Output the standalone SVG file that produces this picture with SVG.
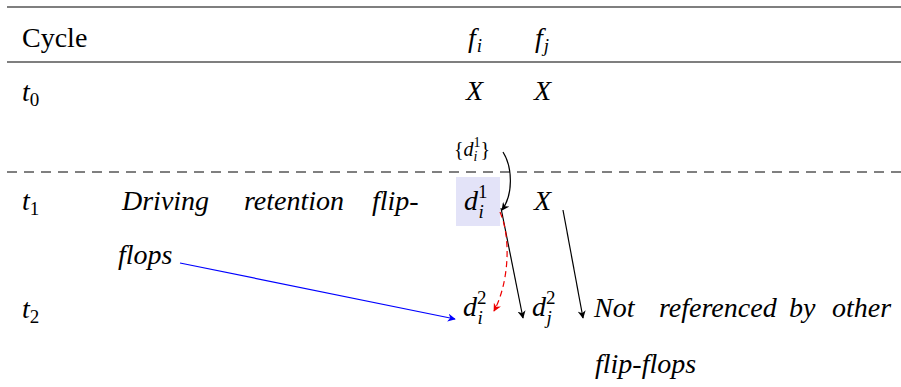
<svg xmlns="http://www.w3.org/2000/svg" width="901" height="387" viewBox="0 0 901 387">
<defs>
<marker id="ak" viewBox="0 0 10 10" refX="9" refY="5" markerWidth="8" markerHeight="8" markerUnits="userSpaceOnUse" orient="auto"><path d="M0,0 L10,5 L0,10 L3,5 Z" fill="#000"/></marker>
<marker id="ar" viewBox="0 0 10 10" refX="9" refY="5" markerWidth="8" markerHeight="8" markerUnits="userSpaceOnUse" orient="auto"><path d="M0,0 L10,5 L0,10 L3,5 Z" fill="#e00"/></marker>
<marker id="ab" viewBox="0 0 10 10" refX="9" refY="5" markerWidth="8" markerHeight="8" markerUnits="userSpaceOnUse" orient="auto"><path d="M0,0 L10,5 L0,10 L3,5 Z" fill="#00f"/></marker>
</defs>
<rect width="901" height="387" fill="#fff"/>
<g id="table" stroke="#000" stroke-width="1.2" fill="none">
<line x1="7" y1="7" x2="901" y2="7"/>
<line x1="7" y1="62" x2="901" y2="62"/>
<line x1="7" y1="172" x2="901" y2="172" stroke-dasharray="10,7" stroke-width="1"/>
</g>
<g id="header">
<text font-family="Times New Roman" font-size="28" x="22" y="47">Cycle</text>
<text font-family="Times New Roman" font-size="28" font-style="italic" x="468" y="47">f<tspan font-size="19" dx="1" dy="5">i</tspan></text>
<text font-family="Times New Roman" font-size="28" font-style="italic" x="535" y="47">f<tspan font-size="19" dx="1" dy="5">j</tspan></text>
</g>
<g id="row-t0">
<text font-family="Times New Roman" font-size="28" font-style="italic" x="22" y="101">t<tspan font-size="19" font-style="normal" dy="5">0</tspan></text>
<text font-family="Times New Roman" font-size="28" font-style="italic" x="466" y="100">X</text>
<text font-family="Times New Roman" font-size="28" font-style="italic" x="534" y="100">X</text>
</g>
<g id="node-set">
<text font-family="Times New Roman" font-size="20" x="454" y="156">{<tspan font-style="italic">d</tspan><tspan font-size="14" dy="-9">1</tspan><tspan font-size="14" font-style="italic" dx="-7" dy="14">i</tspan><tspan dx="3" dy="-5">}</tspan></text>
</g>
<g id="row-t1">
<text font-family="Times New Roman" font-size="28" font-style="italic" x="22" y="210">t<tspan font-size="19" font-style="normal" dy="5">1</tspan></text>
<rect x="456" y="177" width="44" height="49" fill="#e3e3f8"/>
<text font-family="Times New Roman" font-size="28" font-style="italic" x="464" y="210">d<tspan font-size="19" font-style="normal" dy="-12">1</tspan><tspan font-size="19" dx="-9" dy="20">i</tspan></text>
<text font-family="Times New Roman" font-size="28" font-style="italic" x="534" y="210">X</text>
</g>
<g id="label-driving">
<text font-family="Times New Roman" font-size="28" font-style="italic" x="122" y="210">Driving</text>
<text font-family="Times New Roman" font-size="28" font-style="italic" x="244" y="210">retention</text>
<text font-family="Times New Roman" font-size="28" font-style="italic" x="372" y="210">flip-</text>
<text font-family="Times New Roman" font-size="28" font-style="italic" x="118" y="264">flops</text>
</g>
<g id="row-t2">
<text font-family="Times New Roman" font-size="28" font-style="italic" x="22" y="318">t<tspan font-size="19" font-style="normal" dy="5">2</tspan></text>
<text font-family="Times New Roman" font-size="28" font-style="italic" x="463" y="316">d<tspan font-size="19" font-style="normal" dy="-12">2</tspan><tspan font-size="19" dx="-9" dy="20">i</tspan></text>
<text font-family="Times New Roman" font-size="28" font-style="italic" x="532" y="316">d<tspan font-size="19" font-style="normal" dy="-12">2</tspan><tspan font-size="19" dx="-9" dy="20">j</tspan></text>
</g>
<g id="label-not-referenced">
<text font-family="Times New Roman" font-size="28" font-style="italic" x="594" y="317">Not</text>
<text font-family="Times New Roman" font-size="28" font-style="italic" x="659" y="317">referenced</text>
<text font-family="Times New Roman" font-size="28" font-style="italic" x="789" y="317">by</text>
<text font-family="Times New Roman" font-size="28" font-style="italic" x="832" y="317">other</text>
<text font-family="Times New Roman" font-size="28" font-style="italic" x="595" y="373">flip-flops</text>
</g>
<g id="connectors" fill="none" stroke-width="1.2">
<path stroke="#000" d="M503,152 C513,168 513,195 502,210" marker-end="url(#ak)"/>
<path stroke="#000" d="M501,208 L523,318" marker-end="url(#ak)"/>
<path stroke="#e00" stroke-dasharray="6,4" d="M500,212 C512,240 508,285 494,311" marker-end="url(#ar)"/>
<path stroke="#000" d="M563,210 L583,318" marker-end="url(#ak)"/>
<path stroke="#00f" d="M180,263 L455,319" marker-end="url(#ab)"/>
</g>
</svg>
